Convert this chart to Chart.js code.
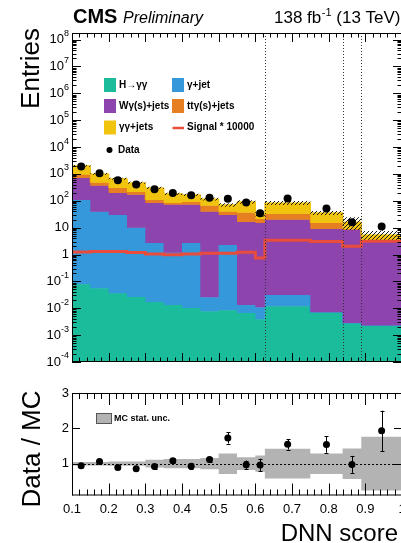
<!DOCTYPE html>
<html>
<head>
<meta charset="utf-8">
<script src="https://cdn.jsdelivr.net/npm/chart.js@4.4.1/dist/chart.umd.min.js"></script>
<style>
html, body { margin: 0; padding: 0; background: #fff; overflow: hidden; }
#wrap { position: relative; width: 401px; height: 543px; overflow: hidden; }
#top { position: absolute; left: 0; top: 0; }
#bot { position: absolute; left: 0; top: 370px; }
</style>
</head>
<body>
<div id="wrap">
  <canvas id="top" width="420" height="370"></canvas>
  <canvas id="bot" width="420" height="173"></canvas>
</div>
<script>
// binning of the DNN score (last bins are wider, split by the category boundaries)
const binEdges = [0.1, 0.15, 0.2, 0.25, 0.3, 0.35, 0.4, 0.45, 0.5, 0.55, 0.6, 0.626, 0.75, 0.838, 0.889, 1.0];
const categoryEdges = [0.626, 0.838, 0.889];

// stacked backgrounds (entries per bin), bottom to top
const hgg     = [0.079, 0.056, 0.036, 0.026, 0.017, 0.0132, 0.0102, 0.0078, 0.0085, 0.0066, 0.0039, 0.012, 0.0071, 0.0028, 0.0023];
const gjet    = [107, 38.8, 29.5, 9.8, 2.67, 1.14, 2.68, 0.018, 2.23, 0.0066, 0.0071, 0.019, 0, 0, 0];
const wgjets  = [601, 324, 165, 156, 80, 70, 68, 38.9, 27.3, 16.2, 14.8, 19.5, 8.9, 8.3, 3.09];
const ttgjets = [225, 105, 107, 48, 24, 12, 20, 25.7, 9.4, 19.3, 6.1, 12.9, 5.9, 0.6, 0.38];
const ggjets  = [1062, 532, 359, 254, 195, 99, 75, 52, 31.9, 55.7, 11.5, 50.8, 20.7, 7.3, 1.9];
const hatchUnc = [0.08, 0.08, 0.08, 0.08, 0.1, 0.1, 0.1, 0.12, 0.15, 0.15, 0.2, 0.17, 0.17, 0.5, 0.4];

const signalX10000 = [1.24, 1.29, 1.29, 1.19, 1.04, 0.98, 1.04, 1.11, 1.11, 1.21, 0.74, 3.4, 3.06, 2.02, 3.14];
const dataCounts = [1880, 1060, 580, 400, 270, 196, 160, 130, 120, 86, 34, 122, 52, 16, 11];

// ratio panel
const ratioValues = [0.94, 1.06, 0.89, 0.86, 0.92, 1.08, 0.93, 1.12, 1.73, 0.97, 0.96, 1.55, 1.54, 0.98, 1.93];
const ratioErrors = [0.03, 0.04, 0.05, 0.05, 0.06, 0.07, 0.08, 0.07, 0.16, 0.12, 0.18, 0.15, 0.23, 0.24, 0.57];
const mcStatUnc   = [0.05, 0.05, 0.06, 0.06, 0.11, 0.13, 0.13, 0.16, 0.29, 0.18, 0.23, 0.42, 0.29, 0.43, 0.76];

const xTickValues = [0.1, 0.2, 0.3, 0.4, 0.5, 0.6, 0.7, 0.8, 0.9, 1.0];
const xTickLabels = ["0.1", "0.2", "0.3", "0.4", "0.5", "0.6", "0.7", "0.8", "0.9", "1"];
const logDecades = [8, 7, 6, 5, 4, 3, 2, 1, 0, -1, -2, -3, -4];
const ratioTicks = [1, 2, 3];

const COL = {
    hgg: "#1abc9c", gjet: "#3498db", wg: "#8e44ad", tt: "#e67e22", gg: "#f1c40f",
    sig: "#e74c3c", band: "#b3b3b3"
};
const FONT = '"Liberation Sans", Arial, Helvetica, sans-serif';

const binCenters = binEdges.slice(0, -1).map((e, i) => (e + binEdges[i + 1]) / 2);

// histogram outline: two corners per bin
function histPoints(vals) {
    const pts = [];
    vals.forEach((v, i) => {
        pts.push({ x: binEdges[i], y: v });
        pts.push({ x: binEdges[i + 1], y: v });
    });
    return pts;
}

const layers = [hgg, gjet, wgjets, ttgjets, ggjets];
const cum = [];
layers.forEach((l, k) => cum.push(l.map((v, i) => v + (k ? cum[k - 1][i] : 0))));
const total = cum[4];

function hatchPattern() {
    const c = document.createElement("canvas");
    c.width = 4; c.height = 4;
    const g = c.getContext("2d");
    g.strokeStyle = "#1a1a1a";
    g.lineWidth = 1;
    g.beginPath();
    g.moveTo(0, 4); g.lineTo(4, 0);
    g.moveTo(-1, 1); g.lineTo(1, -1);
    g.moveTo(3, 5); g.lineTo(5, 3);
    g.stroke();
    return g.createPattern(c, "repeat");
}

function drawPow(ctx, e, xRight, yMid) {
    ctx.textBaseline = "middle";
    ctx.textAlign = "left";
    if (e === 0 || e === 1) {
        ctx.font = "13px " + FONT;
        const s = e === 0 ? "1" : "10";
        ctx.fillText(s, xRight - ctx.measureText(s).width, yMid);
        return;
    }
    const ex = String(e);
    ctx.font = "9px " + FONT;
    const we = ctx.measureText(ex).width;
    ctx.font = "13px " + FONT;
    const wb = ctx.measureText("10").width;
    ctx.fillText("10", xRight - we - wb, yMid);
    ctx.font = "9px " + FONT;
    ctx.fillText(ex, xRight - we, yMid - 6);
}

function frameTicks(chart, yTicks, len) {
    const { ctx, chartArea: a, scales } = chart;
    const xs = scales.x, ys = scales.y;
    ctx.save();
    ctx.strokeStyle = "#000";
    ctx.lineWidth = 1;
    ctx.strokeRect(a.left + 0.5, a.top + 0.5, a.right - a.left - 1, a.bottom - a.top - 1);
    ctx.beginPath();
    for (let i = 0; i <= 45; i++) {
        const px = Math.round(xs.getPixelForValue(0.1 + i * 0.02)) + 0.5;
        const l = i % 5 === 0 ? len.xMajor : len.xMinor;
        ctx.moveTo(px, a.bottom); ctx.lineTo(px, a.bottom - l);
        ctx.moveTo(px, a.top); ctx.lineTo(px, a.top + l);
    }
    yTicks.forEach(t => {
        const py = Math.round(ys.getPixelForValue(t.v)) + 0.5;
        const l = t.major ? len.yMajor : len.yMinor;
        ctx.moveTo(a.left, py); ctx.lineTo(a.left + l, py);
        ctx.moveTo(a.right, py); ctx.lineTo(a.right - l, py);
    });
    ctx.stroke();
    ctx.restore();
}

const logTicks = [];
logDecades.forEach(e => {
    logTicks.push({ v: Math.pow(10, e), major: true });
    if (e < 8) for (let k = 2; k <= 9; k++) logTicks.push({ v: k * Math.pow(10, e), major: false });
});

const topDecor = {
    id: "topDecor",
    afterDatasetsDraw(chart) {
        const { ctx, chartArea: a, scales } = chart;
        const xs = scales.x, ys = scales.y;
        ctx.save();
        // category boundaries
        ctx.strokeStyle = "#333";
        ctx.setLineDash([1, 2]);
        ctx.beginPath();
        categoryEdges.forEach(v => {
            const px = Math.round(xs.getPixelForValue(v)) + 0.5;
            ctx.moveTo(px, a.top); ctx.lineTo(px, a.bottom);
        });
        ctx.stroke();
        ctx.setLineDash([]);
        // poisson error bars on data
        ctx.strokeStyle = "#000";
        ctx.beginPath();
        dataCounts.forEach((n, i) => {
            const px = Math.round(xs.getPixelForValue(binCenters[i])) + 0.5;
            const e = Math.sqrt(n);
            ctx.moveTo(px, ys.getPixelForValue(n - e));
            ctx.lineTo(px, ys.getPixelForValue(n + e));
        });
        ctx.stroke();
        ctx.restore();
    },
    afterDraw(chart) {
        const { ctx, chartArea: a, scales } = chart;
        const ys = scales.y;
        frameTicks(chart, logTicks, { xMajor: 9, xMinor: 4.5, yMajor: 9, yMinor: 4.5 });
        ctx.save();
        ctx.fillStyle = "#000";
        logDecades.forEach(e => drawPow(ctx, e, a.left - 3, ys.getPixelForValue(Math.pow(10, e))));

        // header
        ctx.textBaseline = "alphabetic";
        ctx.textAlign = "left";
        ctx.font = "bold 20px " + FONT;
        ctx.fillText("CMS", 73, 23);
        ctx.font = "italic 16px " + FONT;
        ctx.fillText("Preliminary", 123, 23);
        let x = 274;
        ctx.font = "17px " + FONT;
        ctx.fillText("138 fb", x, 23);
        x += ctx.measureText("138 fb").width + 0.5;
        ctx.font = "11px " + FONT;
        ctx.fillText("-1", x, 16);
        x += ctx.measureText("-1").width;
        ctx.font = "17px " + FONT;
        ctx.fillText(" (13 TeV)", x, 23);

        // y title
        ctx.save();
        ctx.translate(39, 28);
        ctx.rotate(-Math.PI / 2);
        ctx.font = "26px " + FONT;
        ctx.textAlign = "right";
        ctx.fillText("Entries", 0, 0);
        ctx.restore();

        // legend
        const rows = [
            { x: 104, y: 85, c: COL.hgg, t: "H\u2192\u03b3\u03b3" },
            { x: 172, y: 85, c: COL.gjet, t: "\u03b3+jet" },
            { x: 104, y: 106, c: COL.wg, t: "W\u03b3(s)+jets" },
            { x: 172, y: 106, c: COL.tt, t: "tt\u03b3(s)+jets" },
            { x: 104, y: 127.5, c: COL.gg, t: "\u03b3\u03b3+jets" }
        ];
        ctx.font = "bold 10px " + FONT;
        ctx.textBaseline = "middle";
        rows.forEach(r => {
            ctx.fillStyle = r.c;
            ctx.fillRect(r.x, r.y - 7, 12, 14);
            ctx.fillStyle = "#000";
            ctx.fillText(r.t, r.x + 15, r.y);
        });
        ctx.strokeStyle = COL.sig;
        ctx.lineWidth = 2.5;
        ctx.beginPath();
        ctx.moveTo(172.5, 128); ctx.lineTo(184, 128);
        ctx.stroke();
        ctx.fillText("Signal * 10000", 187, 127.5);
        ctx.beginPath();
        ctx.arc(109.5, 150, 3, 0, Math.PI * 2);
        ctx.fill();
        ctx.fillText("Data", 118, 150);
        ctx.restore();
    }
};

const stackNames = ["H\u2192\u03b3\u03b3", "\u03b3+jet", "W\u03b3(s)+jets", "tt\u03b3(s)+jets", "\u03b3\u03b3+jets"];
const stackCols = [COL.hgg, COL.gjet, COL.wg, COL.tt, COL.gg];
const topSets = cum.map((c, k) => ({
    label: stackNames[k],
    data: histPoints(c),
    backgroundColor: stackCols[k],
    borderColor: stackCols[k],
    borderWidth: 1,
    pointRadius: 0,
    fill: k === 0 ? "start" : "-1",
    order: 10 - k
}));
topSets.push({
    label: "unc low",
    data: histPoints(total.map((t, i) => t * (1 - hatchUnc[i]))),
    borderColor: "rgba(0,0,0,0)",
    pointRadius: 0,
    fill: false,
    order: 4
});
topSets.push({
    label: "unc high",
    data: histPoints(total.map((t, i) => t * (1 + hatchUnc[i]))),
    borderColor: "rgba(0,0,0,0)",
    backgroundColor: hatchPattern(),
    pointRadius: 0,
    fill: "-1",
    order: 3
});
topSets.push({
    label: "Signal * 10000",
    data: histPoints(signalX10000),
    borderColor: COL.sig,
    borderWidth: 3,
    pointRadius: 0,
    fill: false,
    order: 2
});
topSets.push({
    label: "Data",
    data: dataCounts.map((n, i) => ({ x: binCenters[i], y: n })),
    showLine: false,
    pointRadius: 4,
    pointBorderWidth: 0,
    pointBackgroundColor: "#000",
    order: 1
});

new Chart(document.getElementById("top"), {
    type: "line",
    data: { datasets: topSets },
    options: {
        responsive: false,
        animation: false,
        layout: { padding: { left: 72, right: 18, top: 33, bottom: 8 } },
        plugins: { legend: { display: false }, tooltip: { enabled: false } },
        scales: {
            x: { type: "linear", min: 0.1, max: 1.0, display: false },
            y: { type: "logarithmic", min: 1e-4, max: 1.75e8, display: false }
        }
    },
    plugins: [topDecor]
});

// ratio panel
const botDecor = {
    id: "botDecor",
    afterDatasetDraw(chart, args) {
        if (args.index !== 1) return;
        const { ctx, chartArea: a, scales } = chart;
        const py = Math.round(scales.y.getPixelForValue(1)) + 0.5;
        ctx.save();
        ctx.strokeStyle = "#000";
        ctx.setLineDash([2, 2]);
        ctx.beginPath();
        ctx.moveTo(a.left, py); ctx.lineTo(a.right, py);
        ctx.stroke();
        ctx.restore();
    },
    afterDatasetsDraw(chart) {
        const { ctx, scales } = chart;
        const xs = scales.x, ys = scales.y;
        ctx.save();
        ctx.strokeStyle = "#000";
        ctx.beginPath();
        ratioValues.forEach((r, i) => {
            const px = Math.round(xs.getPixelForValue(binCenters[i])) + 0.5;
            const y1 = ys.getPixelForValue(r - ratioErrors[i]);
            const y2 = ys.getPixelForValue(r + ratioErrors[i]);
            ctx.moveTo(px, y1); ctx.lineTo(px, y2);
            ctx.moveTo(px - 2, Math.round(y1) + 0.5); ctx.lineTo(px + 2, Math.round(y1) + 0.5);
            ctx.moveTo(px - 2, Math.round(y2) + 0.5); ctx.lineTo(px + 2, Math.round(y2) + 0.5);
        });
        ctx.stroke();
        ctx.restore();
    },
    afterDraw(chart) {
        const { ctx, chartArea: a, scales } = chart;
        const xs = scales.x, ys = scales.y;
        frameTicks(chart, ratioTicks.map(v => ({ v: v, major: true })),
            { xMajor: 12, xMinor: 6, yMajor: 8, yMinor: 4 });
        ctx.save();
        ctx.fillStyle = "#000";
        ctx.font = "13px " + FONT;
        ctx.textBaseline = "middle";
        ctx.textAlign = "right";
        ratioTicks.forEach(v => ctx.fillText(String(v), a.left - 3, ys.getPixelForValue(v)));
        ctx.textAlign = "center";
        xTickValues.forEach((v, i) => ctx.fillText(xTickLabels[i], xs.getPixelForValue(v), 139));

        ctx.textAlign = "right";
        ctx.textBaseline = "alphabetic";
        ctx.font = "24px " + FONT;
        ctx.fillText("DNN score", 398, 171);

        ctx.save();
        ctx.translate(40, 79);
        ctx.rotate(-Math.PI / 2);
        ctx.font = "26px " + FONT;
        ctx.textAlign = "center";
        ctx.fillText("Data / MC", 0, 0);
        ctx.restore();

        // legend
        ctx.fillStyle = COL.band;
        ctx.fillRect(96, 43, 16, 11);
        ctx.strokeStyle = "#555";
        ctx.strokeRect(96.5, 43.5, 15, 10);
        ctx.fillStyle = "#000";
        ctx.font = "bold 9px " + FONT;
        ctx.textAlign = "left";
        ctx.textBaseline = "middle";
        ctx.fillText("MC stat. unc.", 114, 49);
        ctx.restore();
    }
};

new Chart(document.getElementById("bot"), {
    type: "line",
    data: {
        datasets: [
            {
                label: "band low",
                data: histPoints(mcStatUnc.map(u => 1 - u)),
                borderColor: "rgba(0,0,0,0)",
                pointRadius: 0,
                fill: false,
                order: 5
            },
            {
                label: "MC stat. unc.",
                data: histPoints(mcStatUnc.map(u => 1 + u)),
                borderColor: "rgba(0,0,0,0)",
                backgroundColor: COL.band,
                pointRadius: 0,
                fill: "-1",
                order: 4
            },
            {
                label: "Data / MC",
                data: ratioValues.map((r, i) => ({ x: binCenters[i], y: r })),
                showLine: false,
                pointRadius: 3.5,
                pointBorderWidth: 0,
                pointBackgroundColor: "#000",
                order: 1
            }
        ]
    },
    options: {
        responsive: false,
        animation: false,
        layout: { padding: { left: 72, right: 18, top: 23, bottom: 47.5 } },
        plugins: { legend: { display: false }, tooltip: { enabled: false } },
        scales: {
            x: { type: "linear", min: 0.1, max: 1.0, display: false },
            y: { type: "linear", min: 0.1, max: 3, display: false }
        }
    },
    plugins: [botDecor]
});
</script>
</body>
</html>
